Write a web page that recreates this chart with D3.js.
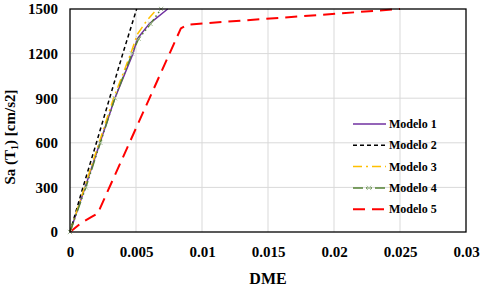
<!DOCTYPE html>
<html>
<head>
<script src="https://d3js.org/d3.v7.min.js"></script>
<style>
  body { margin: 0; background: #fff; }
  text { font-family: "Liberation Serif", "Times New Roman", serif; font-weight: bold; }
</style>
</head>
<body>
<script>
// data (DME, Sa)
var dme1 = [0, 0.00114, 0.00227, 0.0034, 0.00477, 0.0051, 0.006, 0.0074];
var sa1  = [0, 300, 600, 900, 1200, 1300, 1400, 1500];
var dme2 = [0, 0.00098, 0.002, 0.003, 0.004, 0.00505];
var sa2  = [0, 300, 600, 900, 1200, 1500];
var dme3 = [0, 0.0011, 0.0022, 0.0033, 0.0046, 0.0051, 0.0058, 0.0066];
var sa3  = [0, 300, 600, 900, 1200, 1330, 1420, 1500];
var dme4 = [0, 0.0012, 0.0023, 0.0034, 0.0047, 0.0052, 0.0061, 0.0069];
var sa4  = [0, 300, 600, 900, 1200, 1300, 1400, 1500];
var dme5 = [0, 0.0008, 0.0016, 0.0021, 0.0084, 0.0089, 0.025];
var sa5  = [0, 58, 100, 125, 1370, 1395, 1500];

var names = ['Modelo 1', 'Modelo 2', 'Modelo 3', 'Modelo 4', 'Modelo 5'];
var xTicks = [0, 0.005, 0.01, 0.015, 0.02, 0.025, 0.03];
var yTicks = [0, 300, 600, 900, 1200, 1500];

var w = 484, h = 286;
var padL = 70, padR = 466, padT = 9, padB = 232;

var svg = d3.select('body').append('svg')
    .attr('width', w)
    .attr('height', h);

var x = d3.scaleLinear().domain([0, 0.03]).range([padL, padR]);
var y = d3.scaleLinear().domain([0, 1500]).range([padB, padT]);

// gridlines
svg.append('g').selectAll('line')
    .data(xTicks.slice(1, -1))
    .enter().append('line')
    .attr('x1', function(d) { return x(d); })
    .attr('x2', function(d) { return x(d); })
    .attr('y1', padT).attr('y2', padB)
    .attr('stroke', '#d9d9d9').attr('stroke-width', 1);

svg.append('g').selectAll('line')
    .data(yTicks.slice(1, -1))
    .enter().append('line')
    .attr('y1', function(d) { return y(d); })
    .attr('y2', function(d) { return y(d); })
    .attr('x1', padL).attr('x2', padR)
    .attr('stroke', '#d9d9d9').attr('stroke-width', 1);

// axes
var xAxis = d3.axisBottom(x).tickValues(xTicks).tickSize(0).tickPadding(14)
    .tickFormat(function(d) { return d === 0 ? '0' : String(+d.toFixed(3)); });
var yAxis = d3.axisLeft(y).tickValues(yTicks).tickSize(0).tickPadding(12)
    .tickFormat(function(d) { return String(d); });

var gx = svg.append('g').attr('transform', 'translate(0,' + padB + ')').call(xAxis);
var gy = svg.append('g').attr('transform', 'translate(' + padL + ',0)').call(yAxis);
[gx, gy].forEach(function(g) {
    g.select('.domain').remove();
    g.attr('font-family', null).attr('font-size', null);
    g.selectAll('text').attr('font-size', '15px').attr('fill', '#000');
});

// series
var series = [
    { x: dme1, y: sa1, color: '#7030a0', dash: null, width: 1.5 },
    { x: dme2, y: sa2, color: '#000000', dash: '4,3', width: 1.5 },
    { x: dme3, y: sa3, color: '#ffc000', dash: '9,4,2,4', width: 1.5 },
    { x: dme4, y: sa4, color: '#548235', dash: '10,3,1.5,3,1.5,3', width: 1.5 },
    { x: dme5, y: sa5, color: '#ff0000', dash: '12,7', width: 2 }
];

var line = d3.line()
    .x(function(d) { return x(d[0]); })
    .y(function(d) { return y(d[1]); });

series.forEach(function(s) {
    var pts = s.x.map(function(v, i) { return [v, s.y[i]]; });
    svg.append('path')
        .datum(pts)
        .attr('d', line)
        .attr('fill', 'none')
        .attr('stroke', s.color)
        .attr('stroke-width', s.width)
        .attr('stroke-linejoin', 'round')
        .attr('stroke-dasharray', s.dash);
});

// x markers for Modelo 4
var m4 = dme4.map(function(v, i) { return [v, sa4[i]]; });
svg.append('g').selectAll('path')
    .data(m4)
    .enter().append('path')
    .attr('d', d3.symbol().type(d3.symbolX).size(14))
    .attr('transform', function(d) { return 'translate(' + x(d[0]) + ',' + y(d[1]) + ')'; })
    .attr('stroke', '#a9c09a').attr('stroke-width', 1).attr('fill', 'none');

// frame
svg.append('rect')
    .attr('x', padL).attr('y', padT)
    .attr('width', padR - padL).attr('height', padB - padT)
    .attr('fill', 'none').attr('stroke', '#000').attr('stroke-width', 1.3);

// legend
var leg = svg.append('g');
names.forEach(function(n, i) {
    var s = series[i];
    var ly = 124 + i * 21.3;
    leg.append('line')
        .attr('x1', 353).attr('x2', 386)
        .attr('y1', ly).attr('y2', ly)
        .attr('stroke', s.color)
        .attr('stroke-width', s.width)
        .attr('stroke-dasharray', s.dash);
    if (i === 3) {
        leg.append('path')
            .attr('d', d3.symbol().type(d3.symbolX).size(14))
            .attr('transform', 'translate(369,' + ly + ')')
            .attr('stroke', '#a9c09a').attr('fill', 'none');
    }
    leg.append('text')
        .attr('x', 389).attr('y', ly + 4)
        .attr('font-size', '12px')
        .text(n);
});

// axis titles
svg.append('text')
    .attr('x', (padL + padR) / 2).attr('y', 284)
    .attr('text-anchor', 'middle')
    .attr('font-size', '16px')
    .text('DME');

var yt = svg.append('text')
    .attr('transform', 'translate(15,137) rotate(-90)')
    .attr('text-anchor', 'middle')
    .attr('font-size', '15px');
yt.append('tspan').text('Sa (T');
yt.append('tspan').attr('font-size', '10px').attr('dy', 3).text('1');
yt.append('tspan').attr('dy', -3).text(') [cm/s2]');
</script>
</body>
</html>
